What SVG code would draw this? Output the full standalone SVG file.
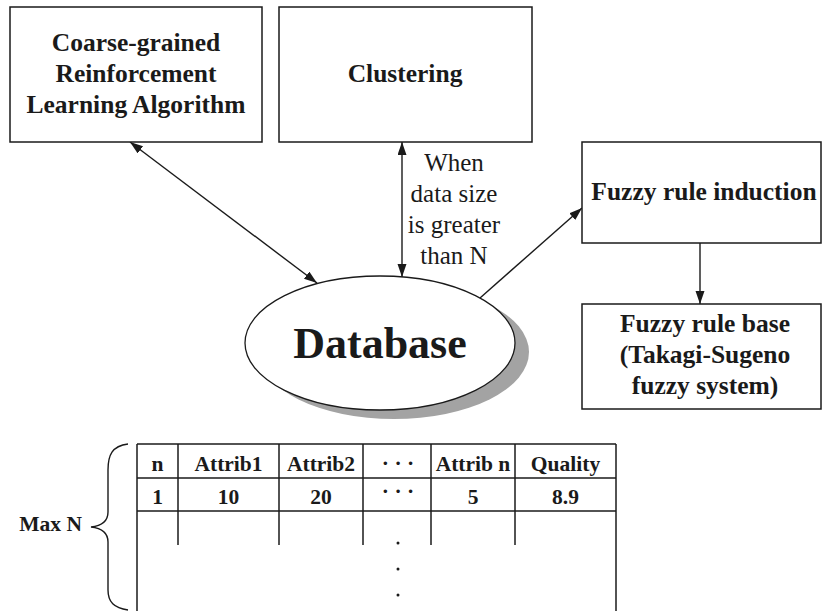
<svg xmlns="http://www.w3.org/2000/svg" width="823" height="611" viewBox="0 0 823 611">
<style>
.box{fill:#fff;stroke:#1a1a1a;stroke-width:1.5}
.sf{font-family:"Liberation Serif","Tinos","Times New Roman","Times","Nimbus Roman","Noto Serif","DejaVu Serif",serif}
.bt{font-weight:bold;font-size:25.5px;fill:#1a1a1a;text-anchor:middle}
.rt{font-size:25px;fill:#1a1a1a;text-anchor:middle}
.tt{font-weight:bold;font-size:21.5px;fill:#1a1a1a;text-anchor:middle}
.ln{stroke:#1a1a1a;stroke-width:1.4;fill:none}
.tl{stroke:#1a1a1a;stroke-width:1.5;fill:none}
</style>
<defs>
<marker id="ah" markerUnits="userSpaceOnUse" markerWidth="14" markerHeight="10" refX="13" refY="4.5" orient="auto-start-reverse">
<path d="M0,0 L13,4.5 L0,9 z" fill="#1a1a1a"/>
</marker>
</defs>
<rect width="823" height="611" fill="#fff"/>

<g id="connectors">
<line class="ln" x1="130" y1="142" x2="317" y2="283" marker-start="url(#ah)" marker-end="url(#ah)"/>
<line class="ln" x1="402" y1="142" x2="402" y2="277" marker-start="url(#ah)" marker-end="url(#ah)"/>
<line class="ln" x1="480" y1="298" x2="582" y2="208" marker-end="url(#ah)"/>
<line class="ln" x1="700" y1="243" x2="700" y2="304" marker-end="url(#ah)"/>
<g id="label-when" class="sf">
<text class="rt" x="454" y="171">When</text>
<text class="rt" x="454" y="202">data size</text>
<text class="rt" x="454" y="233">is greater</text>
<text class="rt" x="454" y="264">than N</text>
</g>
</g>

<g id="node-rl" class="sf">
<rect class="box" x="10" y="7" width="252" height="135"/>
<text class="bt" x="136" y="51">Coarse-grained</text>
<text class="bt" x="136" y="82">Reinforcement</text>
<text class="bt" x="136" y="113">Learning Algorithm</text>
</g>

<g id="node-clustering" class="sf">
<rect class="box" x="279" y="7" width="253" height="135"/>
<text class="bt" x="405" y="82">Clustering</text>
</g>

<g id="node-induction" class="sf">
<rect class="box" x="582" y="142" width="239" height="101"/>
<text class="bt" x="704" y="200">Fuzzy rule induction</text>
</g>

<g id="node-rulebase" class="sf">
<rect class="box" x="582" y="304" width="239" height="105"/>
<text class="bt" x="705" y="332">Fuzzy rule base</text>
<text class="bt" x="705" y="363">(Takagi-Sugeno</text>
<text class="bt" x="705" y="394">fuzzy system)</text>
</g>

<g id="node-database" class="sf">
<ellipse cx="394" cy="352" rx="135" ry="67" fill="#a3a3a3"/>
<ellipse cx="380" cy="343" rx="135" ry="67" fill="#fff" stroke="#1a1a1a" stroke-width="1.3"/>
<text x="380" y="358" font-weight="bold" font-size="44" fill="#1a1a1a" text-anchor="middle">Database</text>
</g>

<g id="table" class="sf">
<line class="tl" x1="137" y1="444" x2="616" y2="444"/>
<line class="tl" x1="137" y1="478" x2="616" y2="478"/>
<line class="tl" x1="137" y1="511" x2="616" y2="511"/>
<line class="tl" x1="137" y1="444" x2="137" y2="611"/>
<line class="tl" x1="616" y1="444" x2="616" y2="611"/>
<line class="tl" x1="178" y1="444" x2="178" y2="545"/>
<line class="tl" x1="279" y1="444" x2="279" y2="545"/>
<line class="tl" x1="363" y1="444" x2="363" y2="545"/>
<line class="tl" x1="431" y1="444" x2="431" y2="545"/>
<line class="tl" x1="515" y1="444" x2="515" y2="545"/>
<text class="tt" x="157.5" y="471">n</text>
<text class="tt" x="228.5" y="471">Attrib1</text>
<text class="tt" x="321" y="471">Attrib2</text>
<text class="tt" x="398" y="470" font-weight="normal">· · ·</text>
<text class="tt" x="473" y="471">Attrib n</text>
<text class="tt" x="565.5" y="471">Quality</text>
<text class="tt" x="157.5" y="504">1</text>
<text class="tt" x="228.5" y="504">10</text>
<text class="tt" x="321" y="504">20</text>
<text class="tt" x="398" y="498" font-weight="normal">· · ·</text>
<text class="tt" x="473" y="504">5</text>
<text class="tt" x="565.5" y="504">8.9</text>
<circle cx="398" cy="543" r="1.5" fill="#1a1a1a"/>
<circle cx="398" cy="569" r="1.5" fill="#1a1a1a"/>
<circle cx="398" cy="595" r="1.5" fill="#1a1a1a"/>
</g>

<g id="brace" class="sf">
<path class="ln" d="M128,444 C112,446 108,455 108,470 L108,512 C108,522 100,526 91,527 C100,528 108,532 108,542 L108,590 C108,602 114,608 128,610"/>
<text class="tt" x="82" y="531" style="text-anchor:end">Max N</text>
</g>
</svg>
